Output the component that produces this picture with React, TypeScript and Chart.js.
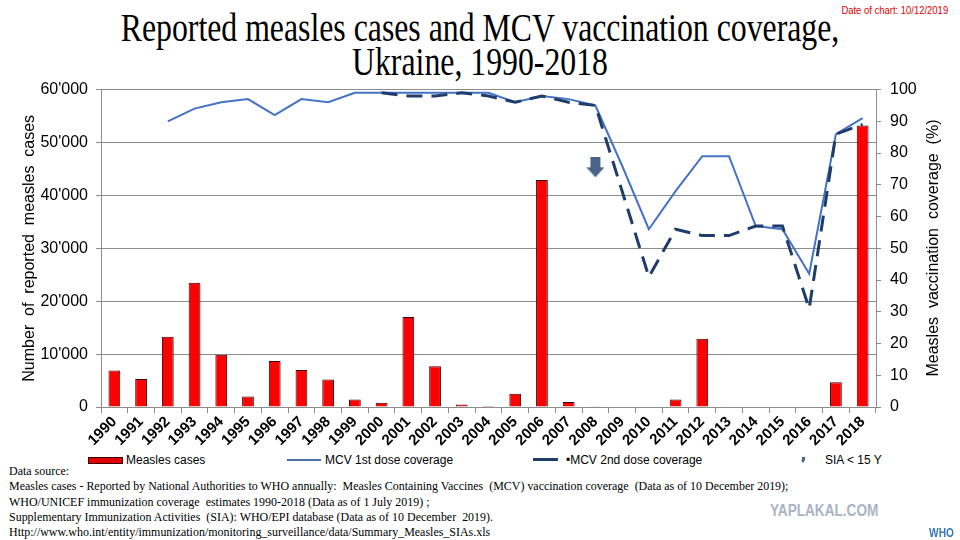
import React, { useEffect, useRef } from "react";
import { Chart, registerables } from "chart.js";

Chart.register(...registerables);

const years = [
  "1990", "1991", "1992", "1993", "1994", "1995", "1996", "1997", "1998", "1999",
  "2000", "2001", "2002", "2003", "2004", "2005", "2006", "2007", "2008", "2009",
  "2010", "2011", "2012", "2013", "2014", "2015", "2016", "2017", "2018",
];

// reported measles cases per year
const measlesCases = [
  6900, 5300, 13300, 23500, 9900, 2000, 8700, 7000, 5200, 1400,
  800, 17000, 7700, 450, 200, 2500, 42900, 950, 120, 0,
  100, 1400, 12900, 0, 0, 100, 100, 4700, 53200,
];

// coverage in %
const mcv1Coverage = [
  null, null, 90, 94, 96, 97, 92, 97, 96, 99,
  99, 99, 99, 99, 99, 96, 98, 97, 95, 76,
  56, 68, 79, 79, 57, 56, 42, 86, 91,
];

const mcv2Coverage = [
  null, null, null, null, null, null, null, null, null, null,
  99, 98, 98, 99, 98, 96, 98, 96, 95, 68,
  41, 56, 54, 54, 57, 57, 31, 86, 89,
];

// SIA campaign marker (2008)
const siaMarker = [
  null, null, null, null, null, null, null, null, null, null,
  null, null, null, null, null, null, null, null, 75.5, null,
  null, null, null, null, null, null, null, null, null,
];

const caseTickStep = 10000;
const coverageTickStep = 10;

const sans = "'Liberation Sans', Arial, sans-serif";
const serif = "'Liberation Serif', 'Times New Roman', serif";
const gridColor = "#8c8c8c";

const formatCases = (v: number) => {
  if (v === 0) return "0";
  const s = String(v);
  return s.slice(0, s.length - 3) + "'" + s.slice(s.length - 3);
};

const makeArrow = (w: number, h: number, shaft: number) => {
  const c = document.createElement("canvas");
  c.width = w;
  c.height = h;
  const ctx = c.getContext("2d");
  if (ctx) {
    ctx.fillStyle = "#4a6388";
    ctx.fillRect((w - shaft) / 2, 0, shaft, h / 2 + 1);
    ctx.beginPath();
    ctx.moveTo(0, h / 2);
    ctx.lineTo(w, h / 2);
    ctx.lineTo(w / 2, h);
    ctx.closePath();
    ctx.fill();
  }
  return c;
};

const MeaslesChart = () => {
  const canvasRef = useRef<HTMLCanvasElement | null>(null);

  useEffect(() => {
    const ctx = canvasRef.current?.getContext("2d");
    if (!ctx) return;

    const arrow = makeArrow(18, 20, 10);

    const chart = new Chart(ctx, {
      type: "bar",
      data: {
        labels: years,
        datasets: [
          {
            type: "line",
            label: "SIA < 15 Y",
            data: siaMarker,
            yAxisID: "y1",
            showLine: false,
            pointStyle: arrow,
            pointRadius: 10,
            order: 0,
          },
          {
            type: "line",
            label: "MCV 2nd dose coverage",
            data: mcv2Coverage,
            yAxisID: "y1",
            borderColor: "#1f3d6b",
            borderWidth: 3,
            borderDash: [16, 9],
            pointRadius: 0,
            tension: 0,
            order: 1,
          },
          {
            type: "line",
            label: "MCV 1st dose coverage",
            data: mcv1Coverage,
            yAxisID: "y1",
            borderColor: "#4472c4",
            borderWidth: 2,
            pointRadius: 0,
            tension: 0,
            order: 2,
          },
          {
            type: "bar",
            label: "Measles cases",
            data: measlesCases,
            yAxisID: "y",
            backgroundColor: "#ff0000",
            borderColor: "#3a0000",
            borderWidth: 1,
            barPercentage: 0.44,
            categoryPercentage: 1,
            order: 3,
          },
        ],
      },
      options: {
        animation: false,
        responsive: true,
        maintainAspectRatio: false,
        layout: { padding: { top: 0, left: 0, right: 0, bottom: 0 } },
        plugins: {
          legend: { display: false },
          tooltip: { enabled: false },
        },
        scales: {
          x: {
            offset: true,
            grid: { drawOnChartArea: false, color: gridColor, tickLength: 6, offset: true },
            border: { color: gridColor },
            ticks: {
              color: "#000",
              font: { family: sans, size: 15, weight: "bold" },
              minRotation: 45,
              maxRotation: 45,
              autoSkip: false,
              padding: 0,
            },
            afterFit: (s: any) => {
              s.height = 43;
            },
          },
          y: {
            position: "left",
            min: 0,
            max: 60000,
            ticks: {
              stepSize: caseTickStep,
              color: "#000",
              font: { family: sans, size: 16 },
              padding: 8,
              callback: (v: any) => formatCases(Number(v)),
            },
            grid: { color: gridColor, tickLength: 5 },
            border: { color: gridColor },
            title: {
              display: true,
              text: "Number  of  reported  measles  cases",
              color: "#000",
              font: { family: sans, size: 16 },
              padding: { top: 20, bottom: 0 },
            },
            afterFit: (s: any) => {
              s.width = 101;
            },
          },
          y1: {
            position: "right",
            min: 0,
            max: 100,
            ticks: {
              stepSize: coverageTickStep,
              color: "#000",
              font: { family: sans, size: 16 },
              padding: 9,
            },
            grid: { drawOnChartArea: false, color: gridColor, tickLength: 5 },
            border: { color: gridColor },
            afterFit: (s: any) => {
              s.width = 84;
            },
          },
        },
      },
    });

    return () => {
      chart.destroy();
    };
  }, []);

  return (
    <div style={{ position: "absolute", left: 0, top: 71, width: 960, height: 379 }}>
      <canvas ref={canvasRef} />
    </div>
  );
};

const legendText: React.CSSProperties = {
  position: "absolute",
  top: 452,
  fontFamily: sans,
  fontSize: 12,
  lineHeight: "16px",
  color: "#000",
  whiteSpace: "nowrap",
};

const sourceLines = [
  "Data source:",
  "Measles cases - Reported by National Authorities to WHO annually:  Measles Containing Vaccines  (MCV) vaccination coverage  (Data as of 10 December 2019);",
  "WHO/UNICEF immunization coverage  estimates 1990-2018 (Data as of 1 July 2019) ;",
  "Supplementary Immunization Activities  (SIA): WHO/EPI database (Data as of 10 December  2019).",
  "Http://www.who.int/entity/immunization/monitoring_surveillance/data/Summary_Measles_SIAs.xls",
];

const App = () => {
  return (
    <div
      style={{
        position: "absolute",
        left: 0,
        top: 0,
        width: 960,
        height: 540,
        background: "#fff",
        overflow: "hidden",
      }}
    >
      <div
        style={{
          position: "absolute",
          left: 0,
          top: 10,
          width: 960,
          textAlign: "center",
          fontFamily: serif,
          fontSize: 41,
          lineHeight: "34px",
          color: "#000",
          transform: "scaleX(0.775)",
          transformOrigin: "480px 0",
          whiteSpace: "nowrap",
        }}
      >
        Reported measles cases and MCV vaccination coverage,
        <br />
        Ukraine, 1990-2018
      </div>
      <div
        style={{
          position: "absolute",
          right: 12,
          top: 4,
          fontFamily: sans,
          fontSize: 11,
          color: "#e00000",
          transform: "scaleX(0.86)",
          transformOrigin: "100% 0",
          whiteSpace: "nowrap",
        }}
      >
        Date of chart: 10/12/2019
      </div>

      <MeaslesChart />

      {/* right axis title, reads bottom to top */}
      <div
        style={{
          position: "absolute",
          left: 933,
          top: 248,
          fontFamily: sans,
          fontSize: 16,
          lineHeight: "20px",
          color: "#000",
          whiteSpace: "pre",
          transform: "translate(-50%, -50%) rotate(-90deg)",
        }}
      >
        Measles  vaccination  coverage  (%)
      </div>

      {/* legend */}
      <div
        style={{
          position: "absolute",
          left: 88,
          top: 457,
          width: 33,
          height: 5,
          background: "#e00000",
          border: "1px solid #400000",
        }}
      />
      <div style={{ ...legendText, left: 126 }}>Measles cases</div>
      <div style={{ position: "absolute", left: 287, top: 459, width: 34, height: 2, background: "#4f6fa8" }} />
      <div style={{ ...legendText, left: 325 }}>MCV 1st dose coverage</div>
      <div style={{ position: "absolute", left: 533, top: 458, width: 25, height: 3, background: "#1f3d6b" }} />
      <div style={{ ...legendText, left: 566 }}>•MCV 2nd dose coverage</div>
      <div style={{ position: "absolute", left: 802, top: 457, width: 3, height: 3, background: "#4a6388" }} />
      <div style={{ position: "absolute", left: 801, top: 460, width: 0, height: 0, borderLeft: "2.5px solid transparent", borderRight: "2.5px solid transparent", borderTop: "3px solid #4a6388" }} />
      <div style={{ ...legendText, left: 825 }}>SIA &lt; 15 Y</div>

      {/* sources */}
      <div
        style={{
          position: "absolute",
          left: 9,
          top: 463,
          fontFamily: serif,
          fontSize: 13,
          lineHeight: "15.3px",
          color: "#000",
          whiteSpace: "pre",
          transform: "scaleX(0.92)",
          transformOrigin: "0 0",
        }}
      >
        {sourceLines.map((l, i) => (
          <div key={i}>{l}</div>
        ))}
      </div>

      <div
        style={{
          position: "absolute",
          left: 770,
          top: 502,
          fontFamily: sans,
          fontWeight: "bold",
          fontSize: 16,
          color: "#a8b4c4",
          transform: "scaleX(0.85)",
          transformOrigin: "0 0",
          whiteSpace: "nowrap",
        }}
      >
        YAPLAKAL.COM
      </div>
      <div
        style={{
          position: "absolute",
          left: 929,
          top: 526,
          fontFamily: sans,
          fontWeight: "bold",
          fontSize: 12,
          color: "#3b78b8",
          transform: "scaleX(0.85)",
          transformOrigin: "0 0",
        }}
      >
        WHO
      </div>
    </div>
  );
};

export default App;
